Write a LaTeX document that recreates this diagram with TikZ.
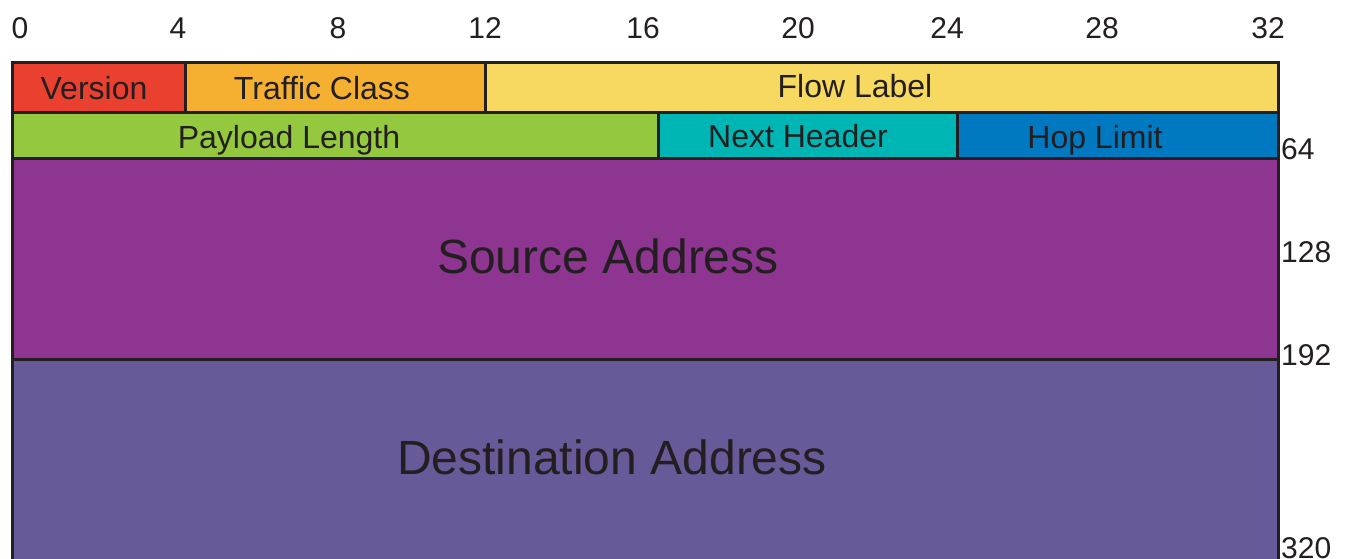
\documentclass[tikz,border=0pt]{standalone}
\usepackage{fontspec}
\setmainfont{Liberation Sans}
\usetikzlibrary{positioning}
\definecolor{lineC}{HTML}{231F20}
\definecolor{verC}{HTML}{E94030}
\definecolor{tcC}{HTML}{F5B031}
\definecolor{flC}{HTML}{F7D860}
\definecolor{plC}{HTML}{94C83E}
\definecolor{nhC}{HTML}{00B6B4}
\definecolor{hlC}{HTML}{0079C1}
\definecolor{srcC}{HTML}{8E3591}
\definecolor{dstC}{HTML}{665A99}
\tikzset{
    x=1pt, y=-1pt,
    field/.style={
        draw=lineC,
        line width=3pt,
        inner sep=0pt,
        outer sep=0pt,
        anchor=north west
    },
    fieldtext/.style={
        text=lineC,
        anchor=base,
        inner sep=0pt,
        font=\fontsize{32}{36}\selectfont
    },
    bigtext/.style={
        fieldtext,
        font=\fontsize{48}{54}\selectfont
    },
    bittext/.style={
        fieldtext,
        font=\fontsize{30}{34}\selectfont
    }
}

\begin{document}
\begin{tikzpicture}
                \clip (0,0) rectangle (1349,558);
                \fill[white] (0,0) rectangle (1349,558);

                % header fields
                \node[field, fill=verC, minimum width=173pt, minimum height=50pt] (ver) at (12,62) {};
                \node[field, fill=tcC, minimum width=300pt, minimum height=50pt] (tc) at (185,62) {};
                \node[field, fill=flC, minimum width=793pt, minimum height=50pt] (fl) at (485,62) {};
                \node[field, fill=plC, minimum width=646pt, minimum height=46pt] (pl) at (12,112) {};
                \node[field, fill=nhC, minimum width=299pt, minimum height=46pt] (nh) at (658,112) {};
                \node[field, fill=hlC, minimum width=321pt, minimum height=46pt] (hl) at (957,112) {};
                \node[field, fill=srcC, minimum width=1266pt, minimum height=201pt] (src) at (12,158) {};
                \node[field, fill=dstC, minimum width=1266pt, minimum height=260pt] (dst) at (12,359) {};

                \node[fieldtext] (verT) at (94,99) {Version};
                \node[fieldtext] (tcT) at (322,99) {Traffic Class};
                \node[fieldtext] (flT) at (855,97) {Flow Label};
                \node[fieldtext] (plT) at (289,148) {Payload Length};
                \node[fieldtext] (nhT) at (798,147) {Next Header};
                \node[fieldtext] (hlT) at (1095,148) {Hop Limit};
                \node[bigtext] (srcT) at (608,273) {Source Address};
                \node[bigtext] (dstT) at (612,474) {Destination Address};

                % bit scale and offsets
                \foreach \b/\x in {0/20,4/178,8/338,12/485,16/643,20/798,24/947,28/1102,32/1268}
                    \node[bittext] (bit\b) at (\x,38) {\b};
                \foreach \v/\y in {64/159,128/262,192/365,320/558}
                    \node[bittext, anchor=base west] (off\v) at (1281,\y) {\v};
            \end{tikzpicture}
\end{document}
